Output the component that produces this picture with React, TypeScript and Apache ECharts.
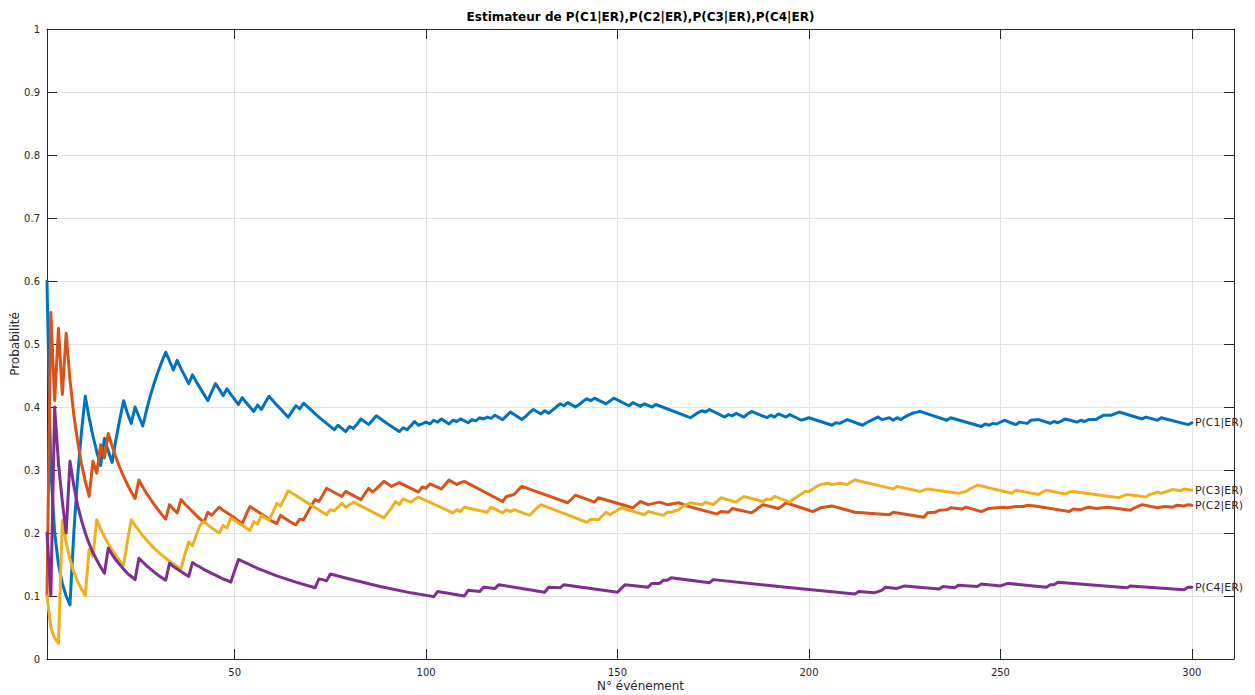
import React, { useEffect, useRef } from 'react';
import * as echarts from 'echarts';

const FONT = '"DejaVu Sans", "Liberation Sans", sans-serif';
const TITLE = 'Estimateur de P(C1|ER),P(C2|ER),P(C3|ER),P(C4|ER)';
const X_NAME = 'N° événement';
const Y_NAME = 'Probabilité';
const SERIES_NAMES = ['P(C1|ER)', 'P(C2|ER)', 'P(C3|ER)', 'P(C4|ER)'];
const COLORS = ['#0072BD', '#D95319', '#EDB120', '#7E2F8E'];
const X_TICKS = [50, 100, 150, 200, 250, 300];
const X_MIN = 1;
const X_MAX = 311;

const probC1: [number, number][] = [
  [1, 0.6], [2, 0.3], [3, 0.2], [4, 0.15], [5, 0.12], [6, 0.1], [7, 0.086], [8, 0.2], [9, 0.29], [10, 0.36],
  [11, 0.417], [12, 0.383], [13, 0.354], [14, 0.329], [15, 0.307], [16, 0.35], [17, 0.33], [18, 0.312], [19, 0.348], [20, 0.38],
  [21, 0.41], [22, 0.39], [23, 0.374], [24, 0.4], [25, 0.385], [26, 0.37], [27, 0.395], [28, 0.418], [29, 0.438], [30, 0.456],
  [31, 0.472], [32, 0.487], [33, 0.473], [34, 0.459], [35, 0.474], [36, 0.461], [37, 0.449], [38, 0.437], [39, 0.451], [40, 0.44],
  [41, 0.43], [42, 0.42], [43, 0.41], [44, 0.424], [45, 0.437], [46, 0.428], [47, 0.418], [48, 0.429], [49, 0.42], [50, 0.412],
  [51, 0.404], [52, 0.415], [53, 0.407], [54, 0.4], [55, 0.393], [56, 0.403], [57, 0.396], [58, 0.407], [59, 0.417], [60, 0.41],
  [61, 0.403], [62, 0.397], [63, 0.39], [64, 0.384], [65, 0.393], [66, 0.402], [67, 0.397], [68, 0.406], [72, 0.384], [76, 0.364],
  [77, 0.371], [79, 0.361], [80, 0.369], [81, 0.366], [82, 0.373], [83, 0.381], [85, 0.372], [86, 0.379], [87, 0.386], [90, 0.373],
  [93, 0.361], [94, 0.367], [95, 0.364], [96, 0.37], [97, 0.377], [98, 0.371], [100, 0.376], [101, 0.373], [102, 0.379], [103, 0.376],
  [104, 0.381], [106, 0.373], [107, 0.379], [108, 0.377], [109, 0.381], [111, 0.375], [112, 0.38], [113, 0.378], [114, 0.383], [115, 0.381],
  [116, 0.384], [117, 0.382], [118, 0.387], [120, 0.38], [121, 0.386], [122, 0.392], [125, 0.38], [126, 0.385], [127, 0.391], [128, 0.396],
  [130, 0.389], [131, 0.394], [132, 0.39], [133, 0.395], [134, 0.4], [135, 0.405], [136, 0.402], [137, 0.407], [139, 0.4], [140, 0.404],
  [141, 0.409], [142, 0.413], [143, 0.41], [144, 0.414], [145, 0.411], [147, 0.405], [149, 0.414], [153, 0.402], [154, 0.407], [156, 0.401],
  [157, 0.405], [159, 0.4], [160, 0.404], [169, 0.383], [170, 0.387], [171, 0.391], [172, 0.394], [173, 0.392], [174, 0.396], [178, 0.384],
  [179, 0.388], [180, 0.386], [181, 0.39], [183, 0.384], [184, 0.389], [185, 0.393], [189, 0.383], [190, 0.387], [191, 0.384], [192, 0.389],
  [194, 0.384], [195, 0.388], [198, 0.379], [200, 0.383], [206, 0.371], [207, 0.375], [208, 0.374], [209, 0.377], [210, 0.38], [214, 0.371],
  [215, 0.375], [216, 0.378], [217, 0.381], [218, 0.384], [219, 0.38], [221, 0.383], [222, 0.379], [223, 0.383], [224, 0.38], [225, 0.384],
  [226, 0.387], [227, 0.39], [229, 0.393], [236, 0.379], [237, 0.383], [245, 0.369], [246, 0.373], [247, 0.371], [248, 0.374], [249, 0.373],
  [251, 0.379], [254, 0.372], [255, 0.376], [257, 0.374], [258, 0.379], [260, 0.38], [263, 0.374], [264, 0.377], [265, 0.375], [267, 0.381],
  [270, 0.376], [271, 0.379], [272, 0.377], [273, 0.38], [275, 0.38], [276, 0.384], [277, 0.387], [279, 0.387], [281, 0.392], [287, 0.381],
  [288, 0.384], [291, 0.379], [292, 0.383], [299, 0.372], [300, 0.375],
];

const probC2: [number, number][] = [
  [1, 0.1], [2, 0.55], [3, 0.41], [4, 0.525], [5, 0.42], [6, 0.517], [7, 0.443], [8, 0.388], [9, 0.345], [10, 0.31],
  [11, 0.282], [12, 0.258], [13, 0.314], [14, 0.295], [15, 0.34], [16, 0.319], [17, 0.358], [18, 0.338], [19, 0.32], [20, 0.304],
  [21, 0.29], [22, 0.277], [23, 0.265], [24, 0.255], [25, 0.284], [26, 0.273], [27, 0.263], [28, 0.254], [29, 0.245], [30, 0.237],
  [31, 0.229], [32, 0.222], [33, 0.245], [34, 0.238], [35, 0.232], [36, 0.253], [37, 0.246], [38, 0.24], [39, 0.234], [40, 0.228],
  [41, 0.222], [42, 0.217], [43, 0.233], [44, 0.228], [45, 0.235], [46, 0.241], [47, 0.236], [48, 0.232], [49, 0.228], [50, 0.224],
  [51, 0.219], [52, 0.215], [53, 0.229], [54, 0.242], [55, 0.238], [56, 0.234], [57, 0.23], [58, 0.226], [59, 0.222], [60, 0.218],
  [61, 0.215], [62, 0.228], [63, 0.224], [64, 0.22], [65, 0.216], [66, 0.213], [67, 0.222], [68, 0.221], [69, 0.232], [70, 0.243],
  [71, 0.253], [72, 0.25], [73, 0.26], [74, 0.271], [78, 0.258], [79, 0.266], [83, 0.253], [84, 0.262], [85, 0.271], [86, 0.265],
  [87, 0.27], [88, 0.276], [89, 0.282], [91, 0.274], [92, 0.277], [93, 0.28], [98, 0.265], [99, 0.273], [100, 0.271], [101, 0.278],
  [104, 0.27], [105, 0.277], [106, 0.284], [108, 0.277], [109, 0.28], [110, 0.282], [120, 0.25], [121, 0.258], [123, 0.261], [124, 0.268],
  [125, 0.274], [137, 0.248], [138, 0.254], [139, 0.26], [144, 0.249], [145, 0.256], [154, 0.24], [155, 0.245], [156, 0.25], [158, 0.245],
  [161, 0.249], [163, 0.245], [166, 0.248], [168, 0.243], [176, 0.23], [177, 0.234], [179, 0.233], [180, 0.239], [185, 0.232], [186, 0.236],
  [187, 0.241], [188, 0.245], [192, 0.239], [193, 0.243], [194, 0.248], [201, 0.234], [203, 0.24], [206, 0.243], [212, 0.233], [221, 0.229],
  [222, 0.233], [230, 0.225], [231, 0.232], [233, 0.233], [234, 0.236], [236, 0.237], [237, 0.24], [240, 0.238], [241, 0.241], [245, 0.234],
  [247, 0.239], [249, 0.24], [251, 0.241], [252, 0.24], [254, 0.242], [256, 0.242], [257, 0.244], [259, 0.243], [268, 0.234], [269, 0.238],
  [271, 0.237], [273, 0.241], [275, 0.239], [278, 0.241], [284, 0.236], [285, 0.24], [287, 0.245], [291, 0.24], [293, 0.242], [295, 0.241],
  [296, 0.244], [298, 0.243], [299, 0.245], [300, 0.244],
];

const probC3: [number, number][] = [
  [1, 0.1], [2, 0.05], [3, 0.033], [4, 0.025], [5, 0.22], [6, 0.185], [7, 0.158], [8, 0.138], [9, 0.123], [10, 0.111],
  [11, 0.101], [12, 0.174], [13, 0.163], [14, 0.221], [15, 0.207], [16, 0.194], [17, 0.183], [18, 0.173], [19, 0.164], [20, 0.156],
  [21, 0.149], [22, 0.186], [23, 0.221], [24, 0.212], [25, 0.204], [26, 0.196], [27, 0.189], [28, 0.182], [29, 0.176], [30, 0.17],
  [31, 0.165], [32, 0.16], [33, 0.155], [34, 0.151], [35, 0.147], [36, 0.143], [37, 0.166], [38, 0.186], [39, 0.18], [40, 0.197],
  [41, 0.213], [42, 0.218], [43, 0.213], [44, 0.208], [45, 0.204], [46, 0.2], [47, 0.212], [48, 0.208], [49, 0.224], [50, 0.22],
  [51, 0.216], [52, 0.212], [53, 0.208], [54, 0.204], [55, 0.218], [56, 0.214], [57, 0.228], [58, 0.224], [59, 0.22], [60, 0.233],
  [61, 0.247], [62, 0.243], [63, 0.255], [64, 0.267], [74, 0.229], [75, 0.237], [76, 0.235], [78, 0.247], [79, 0.241], [81, 0.249],
  [89, 0.224], [90, 0.232], [91, 0.24], [92, 0.25], [93, 0.245], [94, 0.254], [96, 0.249], [97, 0.253], [98, 0.257], [107, 0.232],
  [108, 0.237], [109, 0.234], [110, 0.241], [116, 0.233], [117, 0.241], [120, 0.232], [121, 0.237], [122, 0.234], [123, 0.237], [127, 0.228],
  [128, 0.234], [129, 0.24], [130, 0.245], [142, 0.217], [143, 0.222], [145, 0.221], [147, 0.233], [148, 0.229], [151, 0.24], [157, 0.229],
  [158, 0.234], [162, 0.228], [163, 0.233], [164, 0.233], [166, 0.237], [167, 0.242], [169, 0.248], [172, 0.245], [173, 0.249], [175, 0.245],
  [176, 0.25], [177, 0.256], [181, 0.249], [182, 0.254], [183, 0.258], [188, 0.25], [189, 0.254], [190, 0.253], [191, 0.258], [195, 0.249],
  [196, 0.254], [197, 0.258], [198, 0.262], [199, 0.266], [200, 0.266], [201, 0.27], [202, 0.274], [203, 0.277], [205, 0.279], [206, 0.277],
  [208, 0.279], [210, 0.277], [211, 0.281], [212, 0.284], [222, 0.27], [223, 0.274], [229, 0.266], [231, 0.27], [239, 0.263], [241, 0.266],
  [242, 0.27], [243, 0.273], [244, 0.276], [253, 0.263], [254, 0.268], [260, 0.261], [261, 0.265], [262, 0.268], [267, 0.262], [268, 0.265],
  [269, 0.266], [281, 0.256], [282, 0.259], [283, 0.261], [288, 0.257], [289, 0.261], [291, 0.265], [292, 0.263], [294, 0.267], [295, 0.269],
  [297, 0.267], [298, 0.27], [300, 0.268],
];

const probC4: [number, number][] = [
  [1, 0.2], [2, 0.1], [3, 0.4], [4, 0.31], [5, 0.25], [6, 0.2], [7, 0.314], [8, 0.275], [9, 0.244], [10, 0.22],
  [11, 0.2], [12, 0.183], [13, 0.169], [14, 0.157], [15, 0.146], [16, 0.136], [17, 0.176], [18, 0.166], [19, 0.157], [20, 0.15],
  [21, 0.143], [22, 0.136], [23, 0.131], [24, 0.126], [25, 0.16], [26, 0.154], [27, 0.148], [28, 0.143], [29, 0.138], [30, 0.133],
  [31, 0.129], [32, 0.125], [33, 0.152], [34, 0.147], [35, 0.143], [36, 0.139], [37, 0.135], [38, 0.131], [39, 0.153], [40, 0.149],
  [41, 0.146], [42, 0.142], [43, 0.139], [44, 0.136], [45, 0.133], [46, 0.13], [47, 0.127], [48, 0.125], [49, 0.122], [50, 0.14],
  [51, 0.158], [56, 0.144], [61, 0.132], [66, 0.122], [71, 0.113], [72, 0.127], [73, 0.126], [74, 0.124], [75, 0.135], [80, 0.127],
  [88, 0.115], [96, 0.105], [102, 0.099], [103, 0.107], [110, 0.1], [111, 0.109], [114, 0.107], [115, 0.114], [118, 0.112], [119, 0.118],
  [131, 0.106], [132, 0.114], [135, 0.113], [136, 0.118], [150, 0.106], [151, 0.112], [152, 0.118], [158, 0.114], [159, 0.12], [161, 0.12],
  [162, 0.125], [163, 0.125], [164, 0.129], [174, 0.121], [175, 0.126], [194, 0.114], [212, 0.103], [213, 0.107], [217, 0.105], [219, 0.109],
  [220, 0.114], [223, 0.112], [225, 0.116], [234, 0.111], [235, 0.115], [238, 0.113], [239, 0.117], [244, 0.115], [245, 0.119], [250, 0.116],
  [252, 0.12], [262, 0.114], [263, 0.118], [264, 0.118], [265, 0.122], [283, 0.113], [284, 0.116], [298, 0.11], [299, 0.114], [300, 0.114],
];

const SERIES_DATA = [probC1, probC2, probC3, probC4];

const TEXT = '#262626';
const AXIS = '#262626';
const GRID = '#e2e2e2';

export default function App() {
  const ref = useRef<HTMLDivElement>(null);

  useEffect(() => {
    if (!ref.current) return;
    const chart = echarts.init(ref.current, null, { renderer: 'svg' });
    const gridLeft = 47;
    const gridRight = 21;
    const gridTop = 29;
    const gridBottom = 36;
    const plotCenterX = gridLeft + (1255 - gridLeft - gridRight) / 2;
    const plotCenterY = gridTop + (695 - gridTop - gridBottom) / 2;

    const option: any = {
      animation: false,
      backgroundColor: '#ffffff',
      textStyle: { fontFamily: FONT },
      grid: {
        left: gridLeft,
        right: gridRight,
        top: gridTop,
        bottom: gridBottom,
        containLabel: false,
        outerBoundsMode: 'none',
      },
      xAxis: [
        {
          type: 'value',
          position: 'bottom',
          min: X_MIN,
          max: X_MAX,
          axisLine: { show: true, onZero: false, lineStyle: { color: AXIS, width: 1 } },
          axisTick: { show: true, inside: true, length: 10, customValues: X_TICKS, lineStyle: { color: AXIS } },
          axisLabel: { show: true, customValues: X_TICKS, color: TEXT, fontSize: 10, fontFamily: FONT, margin: 8 },
          splitLine: { show: true, lineStyle: { color: GRID, width: 1 } },
        },
        {
          type: 'value',
          position: 'top',
          min: X_MIN,
          max: X_MAX,
          axisLine: { show: true, onZero: false, lineStyle: { color: AXIS, width: 1 } },
          axisTick: { show: true, inside: true, length: 10, customValues: X_TICKS, lineStyle: { color: AXIS } },
          axisLabel: { show: false },
          splitLine: { show: false },
        },
      ],
      yAxis: [
        {
          type: 'value',
          position: 'left',
          min: 0,
          max: 1,
          interval: 0.1,
          axisLine: { show: true, onZero: false, lineStyle: { color: AXIS, width: 1 } },
          axisTick: { show: true, inside: true, length: 10, lineStyle: { color: AXIS } },
          axisLabel: { show: true, color: TEXT, fontSize: 10, fontFamily: FONT, margin: 7 },
          splitLine: { show: true, lineStyle: { color: GRID, width: 1 } },
        },
        {
          type: 'value',
          position: 'right',
          min: 0,
          max: 1,
          interval: 0.1,
          axisLine: { show: true, onZero: false, lineStyle: { color: AXIS, width: 1 } },
          axisTick: { show: true, inside: true, length: 10, lineStyle: { color: AXIS } },
          axisLabel: { show: false },
          splitLine: { show: false },
        },
      ],
      series: SERIES_DATA.map((data, i) => ({
        name: SERIES_NAMES[i],
        type: 'line',
        xAxisIndex: 0,
        yAxisIndex: 0,
        data,
        showSymbol: false,
        symbol: 'none',
        color: COLORS[i],
        lineStyle: { color: COLORS[i], width: 3, join: 'round', cap: 'round' },
        emphasis: { disabled: true },
        endLabel: {
          show: true,
          formatter: () => SERIES_NAMES[i],
          color: TEXT,
          fontSize: 11,
          fontFamily: FONT,
          distance: 3,
        },
        z: 2 + i,
      })),
      graphic: [
        {
          type: 'text',
          x: plotCenterX,
          y: 17,
          style: {
            text: TITLE,
            fill: '#000000',
            font: `bold 12px ${FONT}`,
            textAlign: 'center',
            textVerticalAlign: 'middle',
            align: 'center',
            verticalAlign: 'middle',
          },
        },
        {
          type: 'text',
          x: plotCenterX,
          y: 686,
          style: {
            text: X_NAME,
            fill: TEXT,
            font: `12px ${FONT}`,
            textAlign: 'center',
            textVerticalAlign: 'middle',
            align: 'center',
            verticalAlign: 'middle',
          },
        },
        {
          type: 'text',
          x: 15,
          y: plotCenterY,
          rotation: Math.PI / 2,
          style: {
            text: Y_NAME,
            fill: TEXT,
            font: `12px ${FONT}`,
            textAlign: 'center',
            textVerticalAlign: 'middle',
            align: 'center',
            verticalAlign: 'middle',
          },
        },
      ],
    };

    chart.setOption(option);
    return () => {
      chart.dispose();
    };
  }, []);

  return (
    <div
      ref={ref}
      style={{ position: 'fixed', left: 0, top: 0, width: 1255, height: 695, background: '#fff' }}
    />
  );
}
